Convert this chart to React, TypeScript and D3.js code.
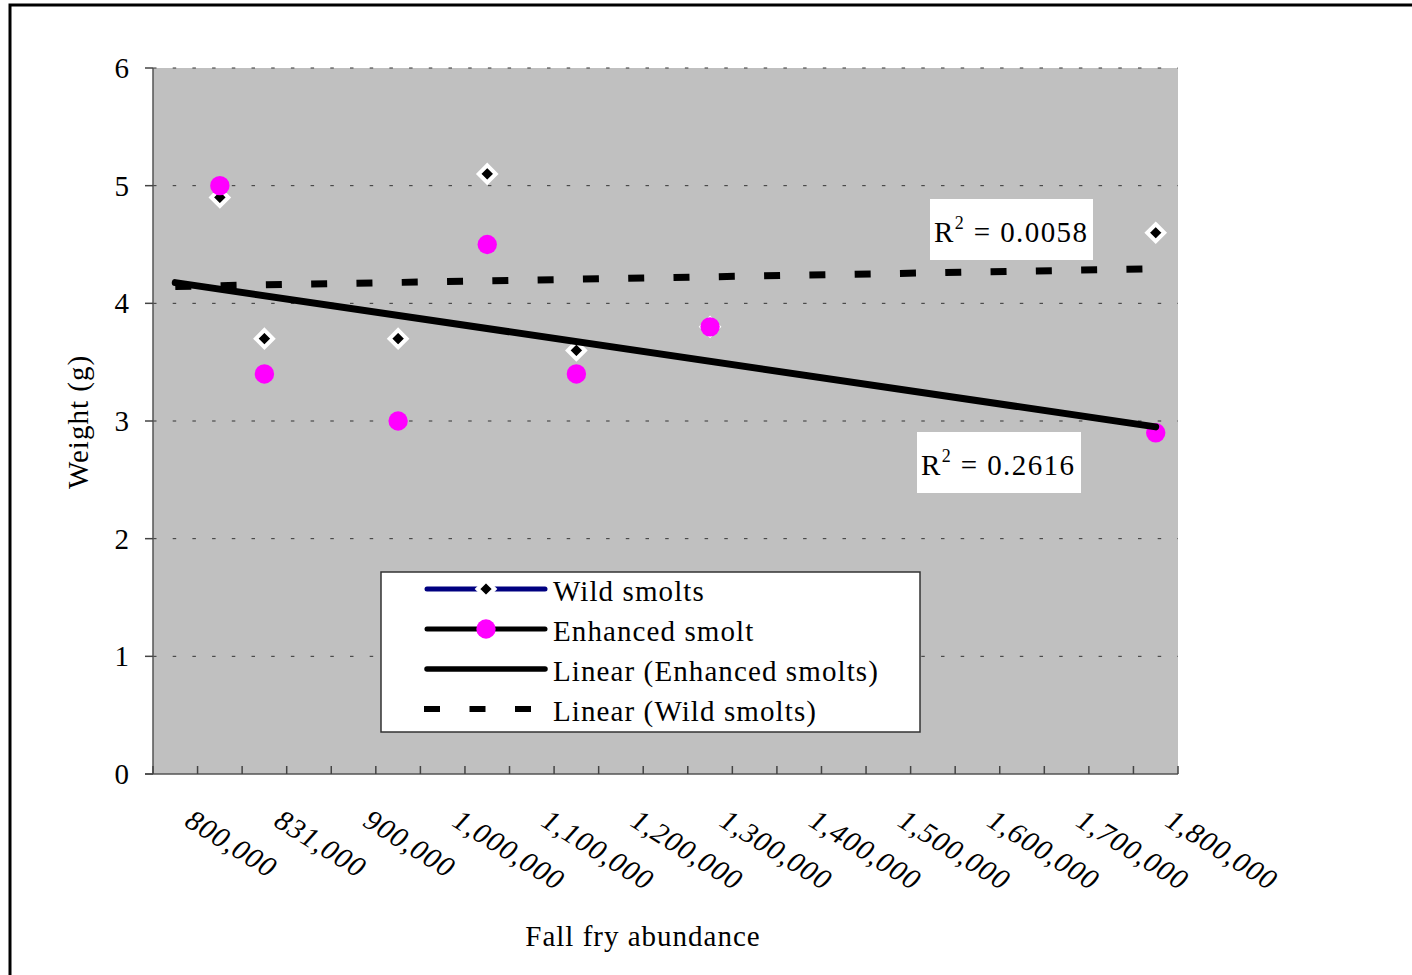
import React from "react";
import * as d3 from "d3";

// categories on the x axis (23 slots, labels on every other one)
const categoryCount = 23;
const tickLabels = [
  "800,000",
  "831,000",
  "900,000",
  "1,000,000",
  "1,100,000",
  "1,200,000",
  "1,300,000",
  "1,400,000",
  "1,500,000",
  "1,600,000",
  "1,700,000",
  "1,800,000",
];

// which category each observation sits in
const pointCategories = [1, 2, 5, 7, 9, 12, 22];
const wildSmolts = [4.9, 3.7, 3.7, 5.1, 3.6, 3.8, 4.6];
const enhancedSmolts = [5.0, 3.4, 3.0, 4.5, 3.4, 3.8, 2.9];

const yTicks = [0, 1, 2, 3, 4, 5, 6];
const legendLabels = ["Wild smolts", "Enhanced smolt", "Linear (Enhanced smolts)", "Linear (Wild smolts)"];

const width = 1412;
const height = 975;
const plot = { left: 153, right: 1178, top: 68, bottom: 774 };
const font = "'Liberation Serif', 'Times New Roman', serif";
const fs = 29;
const ls = 1.1;

const x = d3
  .scaleBand<number>()
  .domain(d3.range(categoryCount))
  .range([plot.left, plot.right]);
const xc = (i: number) => (x(i) as number) + x.bandwidth() / 2;
const y = d3.scaleLinear().domain([0, 6]).range([plot.bottom, plot.top]);

// least squares trend, same as Excel's linear trendline (x = 1..n)
function linearFit(xs: number[], ys: number[]) {
  const mx = d3.mean(xs) as number;
  const my = d3.mean(ys) as number;
  let sxy = 0,
    sxx = 0,
    syy = 0;
  xs.forEach((v, i) => {
    sxy += (v - mx) * (ys[i] - my);
    sxx += (v - mx) ** 2;
    syy += (ys[i] - my) ** 2;
  });
  const slope = sxy / sxx;
  const b = my - slope * mx;
  return { f: (v: number) => slope * v + b, r2: (sxy * sxy) / (sxx * syy) };
}

const excelX = pointCategories.map((c) => c + 1);
const wildFit = linearFit(excelX, wildSmolts);
const enhFit = linearFit(excelX, enhancedSmolts);

const diamond = (s: number) => `M0,${-s}L${s},0L0,${s}L${-s},0Z`;

const Diamond = ({ cx, cy }: { cx: number; cy: number }) => (
  <path
    transform={`translate(${cx},${cy})`}
    d={diamond(8.5)}
    fill="#000"
    stroke="#fff"
    strokeWidth={4}
  />
);

export default function App() {
  const ends = [0, categoryCount - 1];
  const lineOf = (fit: { f: (v: number) => number }) =>
    d3
      .line<number>()
      .x((c) => xc(c))
      .y((c) => y(fit.f(c + 1)))(ends) as string;

  const legendRows = [591, 631, 671, 711];

  return (
    <svg
      width={width}
      height={height}
      style={{ position: "absolute", left: 0, top: 0, background: "#fff" }}
      fontFamily={font}
    >
      <rect x={10} y={5} width={1420} height={1000} fill="#fff" stroke="#000" strokeWidth={3} />

      {/* plot area */}
      <rect
        x={plot.left}
        y={plot.top}
        width={plot.right - plot.left}
        height={plot.bottom - plot.top}
        fill="#c0c0c0"
      />
      {yTicks.slice(1).map((t) => (
        <line
          key={t}
          x1={plot.left}
          x2={plot.right}
          y1={y(t)}
          y2={y(t)}
          stroke="#333"
          strokeWidth={1}
          strokeDasharray="3.5 16.2"
        />
      ))}

      {/* axes */}
      <line x1={plot.left} x2={plot.left} y1={plot.top} y2={plot.bottom} stroke="#555" strokeWidth={1.5} />
      <line x1={plot.left - 8} x2={plot.right} y1={plot.bottom} y2={plot.bottom} stroke="#555" strokeWidth={1.5} />
      {yTicks.map((t) => (
        <g key={t}>
          <line x1={plot.left - 8} x2={plot.left} y1={y(t)} y2={y(t)} stroke="#444" strokeWidth={1.5} />
          <text x={129} y={y(t)} dy="0.35em" textAnchor="end" fontSize={fs}>
            {t}
          </text>
        </g>
      ))}
      {d3.range(categoryCount + 1).map((i) => {
        const px = i === categoryCount ? plot.right : (x(i) as number);
        return (
          <line key={i} x1={px} x2={px} y1={plot.bottom - 8} y2={plot.bottom} stroke="#444" strokeWidth={1.5} />
        );
      })}
      {tickLabels.map((lab, k) => {
        const cx = xc(k * 2);
        return (
          <text
            key={lab}
            transform={`translate(${cx + 8},${825}) rotate(32)`}
            fontSize={fs}
            letterSpacing={1}
            fontStyle="italic"
          >
            {lab}
          </text>
        );
      })}

      {/* markers */}
      {pointCategories.map((c, i) => (
        <Diamond key={"w" + i} cx={xc(c)} cy={y(wildSmolts[i])} />
      ))}
      {pointCategories.map((c, i) => (
        <circle key={"e" + i} cx={xc(c)} cy={y(enhancedSmolts[i])} r={9.7} fill="#ff00ff" />
      ))}

      {/* trendlines */}
      <path d={lineOf(enhFit)} stroke="#000" strokeWidth={7} fill="none" strokeLinecap="round" />
      <path d={lineOf(wildFit)} stroke="#000" strokeWidth={7} fill="none" strokeDasharray="16 29.3" />

      {/* R squared labels */}
      <rect x={930} y={199} width={163} height={61} fill="#fff" />
      <text x={934} y={242} fontSize={fs} letterSpacing={1.4}>
        R<tspan dy={-13} fontSize={18}>2</tspan>
        <tspan dy={13}> = {wildFit.r2.toFixed(4)}</tspan>
      </text>
      <rect x={917} y={432} width={164} height={61} fill="#fff" />
      <text x={921} y={475} fontSize={fs} letterSpacing={1.4}>
        R<tspan dy={-13} fontSize={18}>2</tspan>
        <tspan dy={13}> = {enhFit.r2.toFixed(4)}</tspan>
      </text>

      {/* legend */}
      <rect x={381} y={572} width={539} height={160} fill="#fff" stroke="#333" strokeWidth={1.5} />
      <line x1={427} x2={545} y1={legendRows[0] - 2} y2={legendRows[0] - 2} stroke="#000080" strokeWidth={5} strokeLinecap="round" />
      <Diamond cx={486} cy={legendRows[0] - 2} />
      <line x1={427} x2={545} y1={legendRows[1] - 2} y2={legendRows[1] - 2} stroke="#000" strokeWidth={5} strokeLinecap="round" />
      <circle cx={486} cy={legendRows[1] - 2} r={9.7} fill="#ff00ff" />
      <line x1={427} x2={545} y1={legendRows[2] - 2} y2={legendRows[2] - 2} stroke="#000" strokeWidth={5.5} strokeLinecap="round" />
      <line x1={424} x2={547} y1={legendRows[3] - 2} y2={legendRows[3] - 2} stroke="#000" strokeWidth={6} strokeDasharray="16 29.5" />
      {legendLabels.map((t, i) => (
        <text key={t} x={553} y={legendRows[i]} dy="0.35em" fontSize={fs} letterSpacing={ls}>
          {t}
        </text>
      ))}

      {/* axis titles */}
      <text transform="translate(88,422) rotate(-90)" textAnchor="middle" fontSize={fs} letterSpacing={1}>
        Weight (g)
      </text>
      <text x={643} y={946} textAnchor="middle" fontSize={fs} letterSpacing={1}>
        Fall fry abundance
      </text>
    </svg>
  );
}
